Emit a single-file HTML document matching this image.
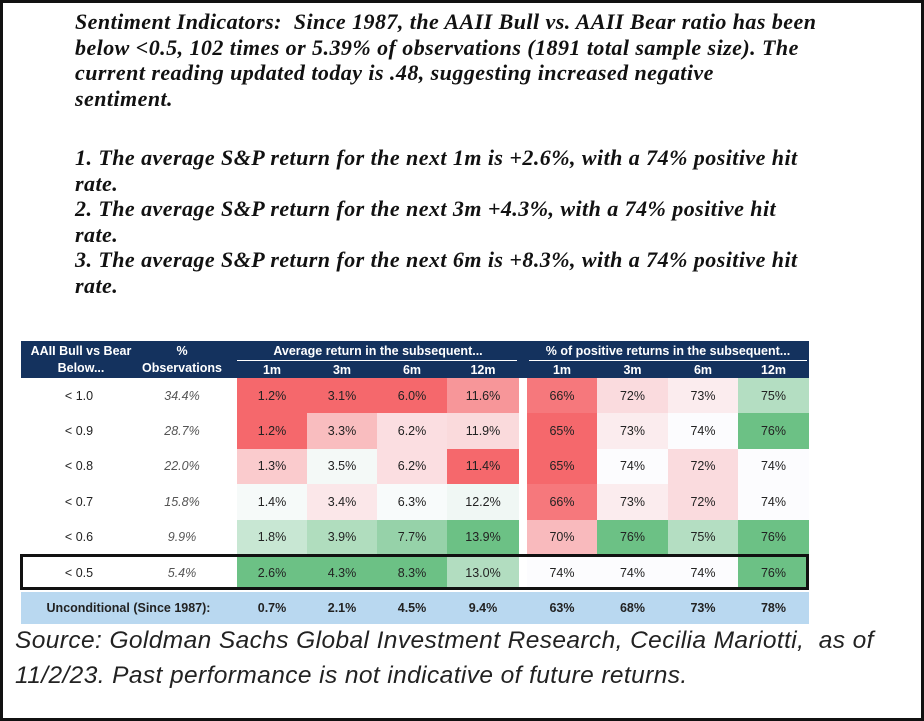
<!DOCTYPE html>
<html><head><meta charset="utf-8">
<style>
html,body{margin:0;padding:0;background:#fff;}
#frame{position:relative;width:924px;height:721px;box-sizing:border-box;border:3px solid #111;overflow:hidden;background:#fff;}
.intro{position:absolute;left:72px;font-family:"Liberation Serif",serif;font-weight:bold;font-style:italic;font-size:22px;color:#111;white-space:nowrap;line-height:25.6px;letter-spacing:0.45px;}
.src{position:absolute;left:12px;top:620px;font-family:"Liberation Sans",sans-serif;font-style:italic;font-size:24.5px;color:#222;line-height:35px;white-space:nowrap;letter-spacing:0.4px;}
#tbl{position:absolute;left:-3px;top:-3px;}
.c{position:absolute;display:flex;align-items:center;justify-content:center;font-family:"Liberation Sans",sans-serif;font-size:12.5px;color:#222;}
.h{color:#fff;font-weight:bold;font-size:12.5px;}
</style></head><body>
<div id="frame">
<div class="intro" style="top:6px">Sentiment Indicators:&nbsp; Since 1987, the AAII Bull vs. AAII Bear ratio has been<br>below &lt;0.5, 102 times or 5.39% of observations (1891 total sample size). The<br>current reading updated today is .48, suggesting increased negative<br>sentiment.</div>
<div class="intro" style="top:142px">1. The average S&amp;P return for the next 1m is +2.6%, with a 74% positive hit<br>rate.<br>2. The average S&amp;P return for the next 3m +4.3%, with a 74% positive hit<br>rate.<br>3. The average S&amp;P return for the next 6m is +8.3%, with a 74% positive hit<br>rate.</div>
<div id="tbl"></div>
<div class="src">Source: Goldman Sachs Global Investment Research, Cecilia Mariotti,&nbsp; as of<br>11/2/23. Past performance is not indicative of future returns.</div>
</div>
<script>
const thresholds = ["< 1.0","< 0.9","< 0.8","< 0.7","< 0.6","< 0.5"];
const observations = ["34.4%","28.7%","22.0%","15.8%","9.9%","5.4%"];
const periods = ["1m","3m","6m","12m"];
const avg1m = [1.2,1.2,1.3,1.4,1.8,2.6];
const avg3m = [3.1,3.3,3.5,3.4,3.9,4.3];
const avg6m = [6.0,6.2,6.2,6.3,7.7,8.3];
const avg12m = [11.6,11.9,11.4,12.2,13.9,13.0];
const pos1m = [66,65,65,66,70,74];
const pos3m = [72,73,74,73,76,74];
const pos6m = [73,74,72,72,75,74];
const pos12m = [75,76,74,74,76,76];
const uncondAvg = ["0.7%","2.1%","4.5%","9.4%"];
const uncondPos = ["63%","68%","73%","78%"];

const tbl = document.getElementById('tbl');
const X0=21, RT=378, RH=35.4;
const avgX=[237,307,377,447,519], posX=[527,597,668,738,809];
function mk(x,y,w,h,txt,cls,bg,name){
  const d=document.createElement('div');
  d.className='c '+(cls||'');
  d.style.left=x+'px';d.style.top=y+'px';d.style.width=w+'px';d.style.height=h+'px';
  if(bg)d.style.background=bg;
  d.textContent=txt;
  
  
  tbl.appendChild(d);return d;
}
function mix(a,b,t){return 'rgb('+a.map((v,i)=>Math.round(v+(b[i]-v)*t)).join(',')+')';}
const RED=[245,104,108],WHITE=[252,252,254],GREEN=[92,186,120];
function color(v,mn,md,mx){
  if(v<=md){const t=md===mn?0:(md-v)/(md-mn);return mix(WHITE,RED,Math.min(1,t));}
  const t=(v-md)/(mx-md);return mix(WHITE,GREEN,Math.min(1,t)*0.9);
}
function median(a){const s=[...a].sort((x,y)=>x-y);const n=s.length;return (s[n/2-1]+s[n/2])/2;}
mk(X0,341,788,37,'','', '#14325e','table-header');
mk(X0,341,120,20,'AAII Bull vs Bear','h',null,'header-threshold');
mk(X0,359,120,18,'Below...','h',null,'header-below');
mk(142,341,80,20,'%','h',null,'header-pct');
mk(142,359,80,18,'Observations','h',null,'header-observations');
mk(237,342,282,18,'Average return in the subsequent...','h',null,'header-average-return');
mk(527,342,282,18,'% of positive returns in the subsequent...','h',null,'header-positive-returns');
mk(237,360,280,1,'','', '#fff','header-underline-avg');
mk(529,360,278,1,'','', '#fff','header-underline-pos');
periods.forEach((p,i)=>{
  mk(avgX[i],361,avgX[i+1]-avgX[i],17,p,'h',null,'header-avg-'+p);
  mk(posX[i],361,posX[i+1]-posX[i],17,p,'h',null,'header-pos-'+p);
});
const avgCols=[avg1m,avg3m,avg6m,avg12m], posCols=[pos1m,pos3m,pos6m,pos12m];
const allPos=[].concat(...posCols);
const pMin=Math.min(...allPos),pMax=Math.max(...allPos),pMid=74;
thresholds.forEach((t,r)=>{
  const y=RT+r*RH;
  mk(X0,y,116,RH,t,'',null,'row-label');
  const o=mk(142,y,80,RH,observations[r],'',null,'row-observations');o.style.fontStyle='italic';o.style.color='#555';
  avgCols.forEach((col,i)=>{
    const mn=Math.min(...col),mx=Math.max(...col),md=median(col);
    mk(avgX[i],y,avgX[i+1]-avgX[i],RH,col[r].toFixed(1)+'%','',color(col[r],mn,md,mx),'avg-cell-'+periods[i]);
  });
  posCols.forEach((col,i)=>{
    mk(posX[i],y,posX[i+1]-posX[i],RH,col[r]+'%','',color(col[r],pMin,pMid,pMax),'pos-cell-'+periods[i]);
  });
});
const hb=document.createElement('div');
hb.style.cssText='position:absolute;left:20px;top:'+(RT+5*RH-1)+'px;width:789px;height:'+(RH+1)+'px;border:3px solid #111;box-sizing:border-box;';


tbl.appendChild(hb);
const uy=RT+6*RH+2;
mk(X0,uy,788,32,'','', '#b9d8f0','unconditional-row');
const ul=mk(X0,uy,215,32,'Unconditional (Since 1987):','',null,'unconditional-label');ul.style.fontWeight='bold';
uncondAvg.forEach((v,i)=>{const c=mk(avgX[i],uy,avgX[i+1]-avgX[i],32,v,'',null,'uncond-avg-'+periods[i]);c.style.fontWeight='bold';});
uncondPos.forEach((v,i)=>{const c=mk(posX[i],uy,posX[i+1]-posX[i],32,v,'',null,'uncond-pos-'+periods[i]);c.style.fontWeight='bold';});
</script>
</body></html>
